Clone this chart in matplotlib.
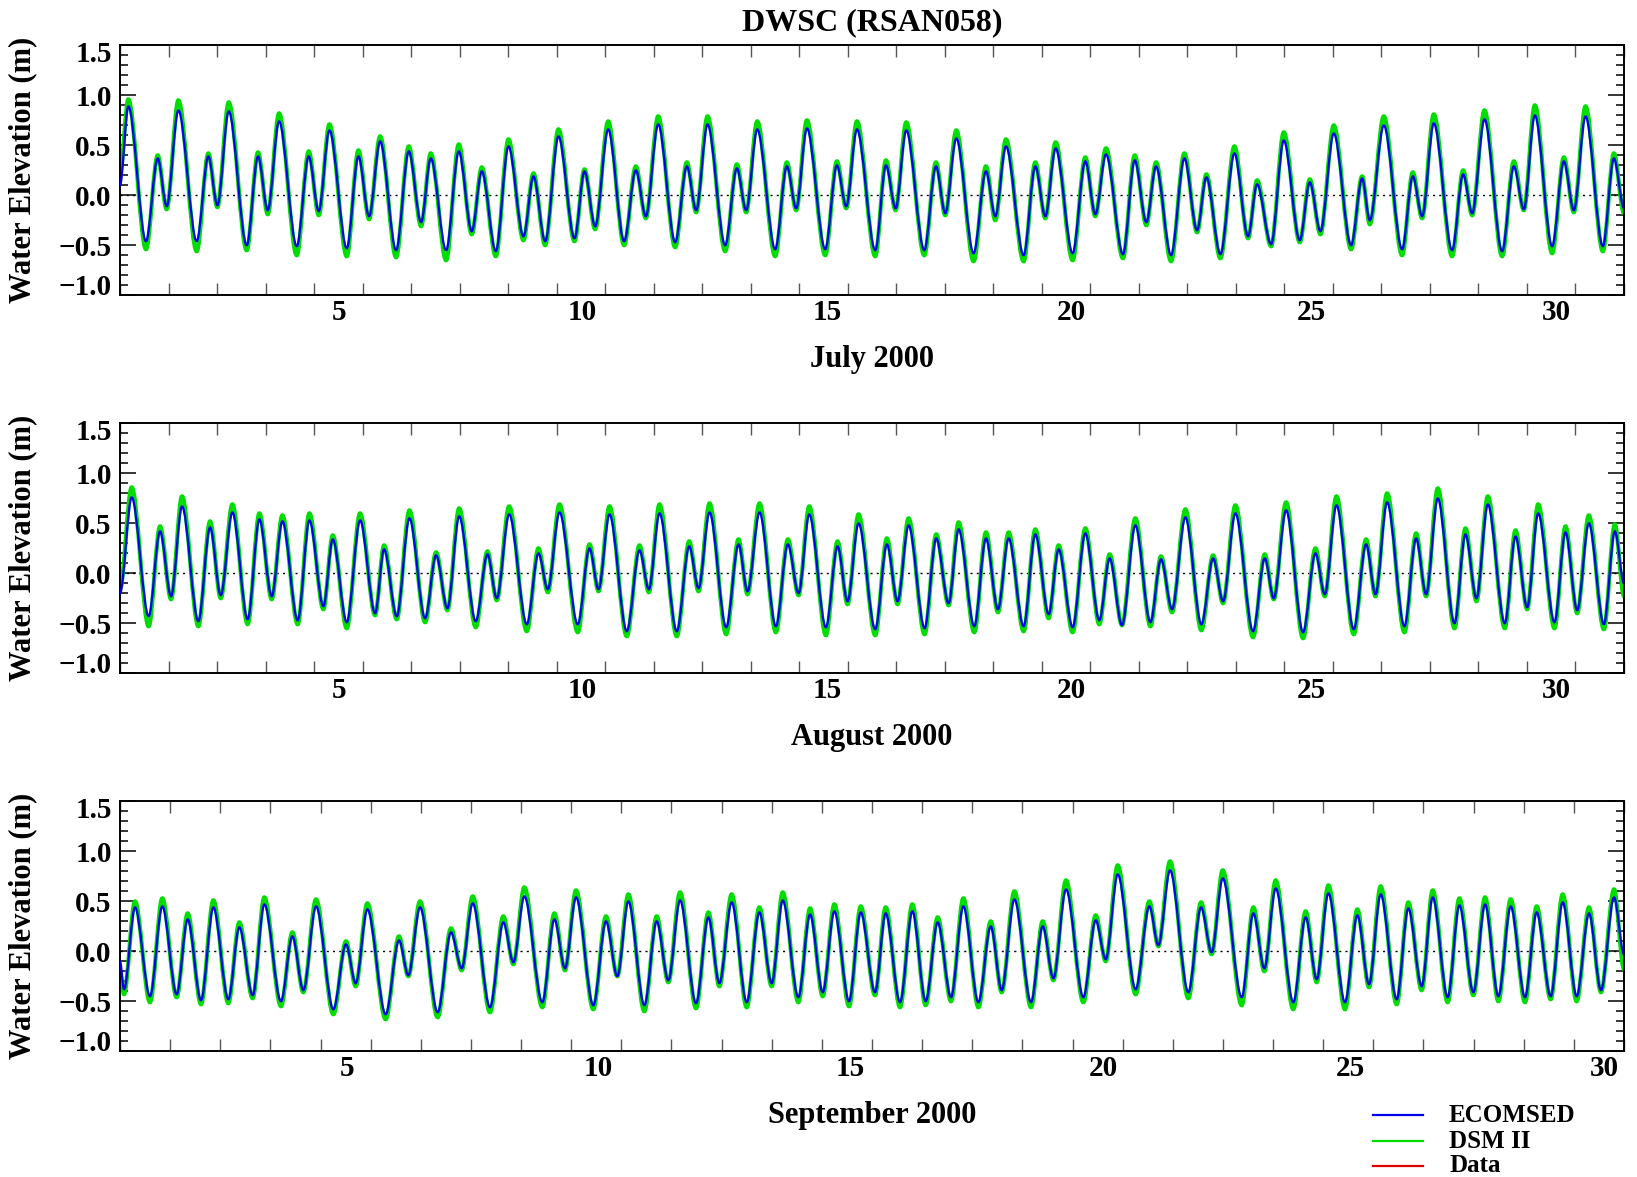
import matplotlib
matplotlib.use("Agg")
import matplotlib.pyplot as plt
from matplotlib.path import Path
from matplotlib.patches import PathPatch
from matplotlib.lines import Line2D
from matplotlib.ticker import FixedLocator, FixedFormatter, MultipleLocator, NullFormatter
from matplotlib.transforms import ScaledTranslation

# Tide extrema: time in days from the 1st of the month (00:00),
# water elevation in metres. First and last entries are the curve ends.
jul_t = [0, 0.172, 0.536, 0.777, 0.962, 1.203, 1.581, 1.821, 2.007, 2.241, 2.612, 2.845, 3.045,
         3.278, 3.643, 3.890, 4.096, 4.316, 4.674, 4.914, 5.134, 5.361, 5.691, 5.952, 6.206,
         6.405, 6.722, 6.983, 7.251, 7.457, 7.746, 8.007, 8.316, 8.522, 8.763, 9.038, 9.368,
         9.574, 9.794, 10.062,
         10.391, 10.632, 10.838, 11.093, 11.443, 11.684, 11.876, 12.110, 12.474, 12.714, 12.907,
         13.134, 13.505, 13.745, 13.938, 14.158, 14.536, 14.776, 14.969, 15.189, 15.567, 15.787,
         15.986, 16.206, 16.577, 16.818, 17.010, 17.237, 17.594, 17.849, 18.041, 18.261, 18.625,
         18.866, 19.072, 19.285, 19.635, 19.897, 20.103, 20.323, 20.673,
         20.915, 21.155, 21.354, 21.664, 21.939, 22.200, 22.392, 22.681, 22.970, 23.251, 23.437,
         23.726, 23.987, 24.317, 24.523, 24.743, 25.018, 25.375, 25.602, 25.760, 26.049, 26.427,
         26.646, 26.839, 27.079, 27.457, 27.684, 27.870, 28.124, 28.488, 28.729, 28.935, 29.162,
         29.519, 29.760, 29.966, 30.207, 30.564, 30.791, 31.0]
jul_dsm = [0.22,
           0.96, -0.54, 0.40, -0.14, 0.95, -0.56, 0.42, -0.12, 0.93, -0.55, 0.43, -0.19, 0.82,
           -0.60, 0.44, -0.20, 0.71, -0.61, 0.45, -0.24, 0.59, -0.62, 0.49, -0.31, 0.42, -0.65,
           0.51, -0.39, 0.28, -0.61, 0.56, -0.45, 0.22, -0.50, 0.66, -0.46, 0.26, -0.34, 0.74,
           -0.50, 0.29, -0.23, 0.79, -0.52, 0.33, -0.17, 0.79, -0.56, 0.31, -0.17, 0.74, -0.61,
           0.33, -0.15, 0.75, -0.60, 0.34, -0.13, 0.74, -0.61, 0.35, -0.15, 0.73, -0.60, 0.33,
           -0.20, 0.65, -0.66, 0.29, -0.25, 0.56, -0.66, 0.33, -0.23, 0.53, -0.65, 0.38, -0.21,
           0.47, -0.63,
           0.40, -0.30, 0.33, -0.66, 0.42, -0.37, 0.21, -0.63, 0.49, -0.43, 0.15, -0.51, 0.63,
           -0.47, 0.16, -0.39, 0.70, -0.54, 0.19, -0.29, 0.79, -0.60, 0.23, -0.23, 0.81, -0.61,
           0.25, -0.20, 0.85, -0.61, 0.34, -0.15, 0.90, -0.58, 0.38, -0.17, 0.89, -0.56, 0.42,
           -0.18]
jul_ecomsed = [0.10,
               0.89, -0.46, 0.37, -0.11, 0.85, -0.46, 0.39, -0.10, 0.84, -0.50, 0.39, -0.15, 0.74,
               -0.51, 0.39, -0.16, 0.65, -0.53, 0.39, -0.21, 0.54, -0.55, 0.44, -0.27, 0.37, -0.55,
               0.44, -0.36, 0.24, -0.56, 0.49, -0.41, 0.19, -0.46, 0.59, -0.43, 0.24, -0.31, 0.66,
               -0.46, 0.25, -0.21, 0.71, -0.47, 0.29, -0.15, 0.71, -0.50, 0.27, -0.15, 0.66, -0.54,
               0.29, -0.13, 0.67, -0.54, 0.30, -0.11, 0.66, -0.55, 0.30, -0.13, 0.65, -0.55, 0.29,
               -0.18, 0.57, -0.58, 0.24, -0.21, 0.49, -0.60, 0.29, -0.21, 0.47, -0.58, 0.34, -0.19,
               0.41, -0.59,
               0.35, -0.27, 0.29, -0.60, 0.37, -0.35, 0.18, -0.59, 0.42, -0.41, 0.11, -0.49, 0.55,
               -0.45, 0.13, -0.36, 0.62, -0.50, 0.17, -0.25, 0.70, -0.54, 0.19, -0.21, 0.72, -0.55,
               0.21, -0.18, 0.76, -0.56, 0.29, -0.14, 0.80, -0.51, 0.34, -0.15, 0.79, -0.51, 0.37,
               -0.13]

aug_t = [0, 0.241, 0.591, 0.825, 1.052, 1.278, 1.615, 1.856, 2.076, 2.316, 2.632, 2.873, 3.127,
         3.347, 3.663, 3.904, 4.192, 4.385, 4.674, 4.948, 5.258, 5.443, 5.704, 5.966, 6.289,
         6.515, 6.749, 6.990, 7.333, 7.574, 7.766, 8.021, 8.385, 8.625, 8.818, 9.058, 9.436,
         9.677, 9.863, 10.089,
         10.446, 10.708, 10.900, 11.120, 11.477, 11.732, 11.924, 12.151, 12.495, 12.749, 12.934,
         13.182, 13.519, 13.766, 13.986, 14.206, 14.550, 14.790, 14.996, 15.223, 15.567, 15.807,
         16.027, 16.254, 16.584, 16.824, 17.079, 17.285, 17.608, 17.849, 18.096, 18.316, 18.625,
         18.866, 19.141, 19.347, 19.635, 19.897, 20.185, 20.398, 20.653,
         20.928, 21.238, 21.457, 21.684, 21.959, 22.289, 22.530, 22.736, 22.990, 23.354, 23.595,
         23.781, 24.035, 24.385, 24.640, 24.832, 25.073, 25.430, 25.684, 25.877, 26.117, 26.475,
         26.715, 26.921, 27.162, 27.506, 27.732, 27.959, 28.193, 28.543, 28.763, 29.004, 29.231,
         29.567, 29.794, 30.035, 30.275, 30.585, 30.811, 31.0]
aug_dsm = [-0.15,
           0.86, -0.53, 0.47, -0.26, 0.77, -0.53, 0.52, -0.25, 0.69, -0.51, 0.60, -0.26, 0.58,
           -0.51, 0.60, -0.36, 0.38, -0.55, 0.60, -0.42, 0.28, -0.46, 0.63, -0.49, 0.21, -0.37,
           0.65, -0.54, 0.22, -0.27, 0.67, -0.58, 0.25, -0.19, 0.69, -0.59, 0.29, -0.18, 0.67,
           -0.63, 0.28, -0.19, 0.69, -0.63, 0.32, -0.18, 0.70, -0.61, 0.34, -0.21, 0.70, -0.59,
           0.34, -0.22, 0.67, -0.62, 0.32, -0.31, 0.59, -0.62, 0.35, -0.31, 0.55, -0.61, 0.39,
           -0.32, 0.51, -0.59, 0.41, -0.39, 0.41, -0.58, 0.44, -0.45, 0.28, -0.59, 0.45, -0.51,
           0.19, -0.52,
           0.55, -0.53, 0.17, -0.39, 0.64, -0.57, 0.18, -0.30, 0.68, -0.64, 0.19, -0.26, 0.71,
           -0.65, 0.25, -0.23, 0.77, -0.61, 0.34, -0.23, 0.80, -0.59, 0.40, -0.23, 0.85, -0.55,
           0.45, -0.28, 0.77, -0.55, 0.43, -0.36, 0.69, -0.55, 0.47, -0.40, 0.58, -0.56, 0.49,
           -0.23]
aug_ecomsed = [-0.20,
               0.76, -0.43, 0.42, -0.23, 0.67, -0.48, 0.46, -0.22, 0.61, -0.46, 0.54, -0.23, 0.52,
               -0.47, 0.53, -0.33, 0.34, -0.49, 0.53, -0.40, 0.24, -0.43, 0.55, -0.45, 0.18, -0.35,
               0.57, -0.48, 0.19, -0.25, 0.59, -0.51, 0.20, -0.16, 0.61, -0.51, 0.25, -0.16, 0.59,
               -0.58, 0.23, -0.16, 0.60, -0.58, 0.27, -0.15, 0.61, -0.54, 0.29, -0.18, 0.61, -0.53,
               0.29, -0.20, 0.59, -0.54, 0.27, -0.28, 0.50, -0.56, 0.29, -0.28, 0.48, -0.55, 0.35,
               -0.30, 0.44, -0.53, 0.35, -0.36, 0.35, -0.53, 0.39, -0.41, 0.24, -0.54, 0.40, -0.47,
               0.15, -0.52,
               0.48, -0.49, 0.14, -0.36, 0.56, -0.51, 0.15, -0.28, 0.60, -0.58, 0.15, -0.25, 0.63,
               -0.59, 0.20, -0.21, 0.68, -0.56, 0.29, -0.21, 0.71, -0.53, 0.35, -0.21, 0.75, -0.50,
               0.39, -0.25, 0.69, -0.50, 0.37, -0.34, 0.60, -0.49, 0.41, -0.37, 0.50, -0.51, 0.42,
               -0.10]

sep_t = [0, 0.080, 0.299, 0.598, 0.844, 1.130, 1.350, 1.616, 1.862, 2.161, 2.380, 2.646, 2.879,
         3.211, 3.438, 3.657, 3.910, 4.255, 4.508, 4.701, 4.934, 5.299, 5.565, 5.751, 5.984,
         6.336, 6.602, 6.815, 7.035, 7.380, 7.646, 7.846, 8.065, 8.424, 8.664, 8.876, 9.096,
         9.441, 9.694, 9.920,
         10.140, 10.459, 10.705, 10.938, 11.171, 11.490, 11.736, 11.955, 12.201, 12.501, 12.753,
         12.999, 13.219, 13.531, 13.764, 14.017, 14.249, 14.542, 14.775, 15.060, 15.273, 15.559,
         15.805, 16.071, 16.310, 16.576, 16.822, 17.122, 17.368, 17.587, 17.840, 18.172, 18.405,
         18.618, 18.870, 19.216, 19.462, 19.662, 19.901,
         20.259, 20.532, 20.712, 20.944, 21.310, 21.563, 21.775, 21.995, 22.374, 22.607, 22.826,
         23.052, 23.404, 23.650, 23.870, 24.103, 24.435, 24.681, 24.914, 25.146, 25.466, 25.698,
         25.964, 26.184, 26.483, 26.716, 26.995, 27.228, 27.494, 27.740, 28.025, 28.258, 28.537,
         28.777, 29.056, 29.302, 29.541, 29.801, 30.0]
sep_dsm = [-0.21,
           -0.43, 0.50, -0.51, 0.53, -0.46, 0.38, -0.53, 0.51, -0.52, 0.29, -0.47, 0.54, -0.55,
           0.19, -0.41, 0.52, -0.63, 0.10, -0.35, 0.48, -0.68, 0.15, -0.25, 0.50, -0.66, 0.23,
           -0.19, 0.55, -0.61, 0.35, -0.13, 0.64, -0.56, 0.38, -0.19, 0.61, -0.58, 0.35, -0.25,
           0.57, -0.60, 0.35, -0.31, 0.59, -0.57, 0.39, -0.35, 0.57, -0.56, 0.44, -0.35, 0.59,
           -0.51, 0.43, -0.45, 0.47, -0.55, 0.45, -0.44, 0.44, -0.56, 0.47, -0.54, 0.34, -0.50,
           0.53, -0.56, 0.30, -0.41, 0.60, -0.56, 0.30, -0.29, 0.71, -0.51, 0.36, -0.10, 0.86,
           -0.43, 0.50, 0.05, 0.90, -0.47, 0.49, -0.03, 0.81, -0.54, 0.44, -0.20, 0.71, -0.58,
           0.40, -0.31, 0.66, -0.58, 0.42, -0.36, 0.65, -0.53, 0.49, -0.39, 0.61, -0.51, 0.53,
           -0.44, 0.54, -0.50, 0.52, -0.51, 0.45, -0.48, 0.57, -0.50, 0.44, -0.41, 0.62,
           -0.18]
sep_ecomsed = [-0.10,
               -0.38, 0.44, -0.45, 0.45, -0.43, 0.32, -0.49, 0.44, -0.48, 0.24, -0.44, 0.47, -0.50,
               0.15, -0.39, 0.45, -0.58, 0.07, -0.32, 0.42, -0.63, 0.11, -0.24, 0.44, -0.61, 0.19,
               -0.17, 0.48, -0.56, 0.29, -0.11, 0.55, -0.51, 0.32, -0.17, 0.54, -0.54, 0.30, -0.25,
               0.50, -0.54, 0.30, -0.29, 0.51, -0.52, 0.34, -0.32, 0.49, -0.51, 0.39, -0.32, 0.51,
               -0.46, 0.37, -0.41, 0.40, -0.50, 0.39, -0.41, 0.38, -0.51, 0.40, -0.50, 0.29, -0.46,
               0.45, -0.51, 0.25, -0.39, 0.52, -0.51, 0.25, -0.27, 0.62, -0.46, 0.31, -0.08, 0.77,
               -0.38, 0.45, 0.06, 0.81, -0.41, 0.44, -0.01, 0.73, -0.46, 0.38, -0.17, 0.63, -0.51,
               0.34, -0.28, 0.58, -0.51, 0.36, -0.33, 0.57, -0.48, 0.43, -0.35, 0.54, -0.46, 0.46,
               -0.41, 0.47, -0.45, 0.45, -0.46, 0.39, -0.45, 0.49, -0.45, 0.38, -0.39, 0.54,
               -0.03]

month_labels = ["July 2000", "August 2000", "September 2000"]
month_days = [31, 31, 30]
day_labels = ["5", "10", "15", "20", "25", "30"]
day_label_pos = [4.52, 9.53, 14.57, 19.61, 24.55, 29.61]
y_ticks = [-1.0, -0.5, 0.0, 0.5, 1.0, 1.5]
y_ticklabels = ["\u22121.0", "\u22120.5", "0.0", "0.5", "1.0", "1.5"]
series_names = ["ECOMSED", "DSM II", "Data"]
series_colors = ["#0000ee", "#00dd00", "#dd0000"]

plt.rcParams["font.family"] = ["Liberation Serif", "DejaVu Serif"]
plt.rcParams["font.weight"] = "bold"


def tide_path(t, v):
    # smooth curve through the extrema, flat at every turning point
    if len(t) != len(v):
        raise ValueError(f"length mismatch {len(t)} vs {len(v)}")
    verts = [(t[0], v[0])]
    codes = [Path.MOVETO]
    for i in range(1, len(t)):
        dt = (t[i] - t[i - 1]) / 3.0
        verts += [(t[i - 1] + dt, v[i - 1]), (t[i] - dt, v[i]), (t[i], v[i])]
        codes += [Path.CURVE4] * 3
    return Path(verts, codes)


W, H = 1637, 1177
fig = plt.figure(figsize=(W / 100, H / 100), dpi=100)

panels = [
    (jul_t, jul_ecomsed, jul_dsm),
    (aug_t, aug_ecomsed, aug_dsm),
    (sep_t, sep_ecomsed, sep_dsm),
]
axes_bottoms = [295.3, 673.3, 1051.3]

for k, (t, eco, dsm) in enumerate(panels):
    ax = fig.add_axes([120 / W, 1 - axes_bottoms[k] / H, 1504 / W, 250 / H])
    ndays = month_days[k]

    ax.axhline(0, color="black", lw=1.0, ls=(0, (1.5, 3)), zorder=1)
    ax.add_patch(PathPatch(tide_path(t, dsm), fill=False, edgecolor=series_colors[1],
                           lw=3.0, joinstyle="round", capstyle="round", zorder=2))
    ax.add_patch(PathPatch(tide_path(t, eco), fill=False, edgecolor=series_colors[0],
                           lw=1.6, joinstyle="round", capstyle="round", zorder=3))

    ax.set_xlim(0, ndays)
    ax.set_ylim(-1.0, 1.5)

    # day boundaries carry the ticks, labels sit near the middle of each day
    ax.xaxis.set_major_locator(FixedLocator(list(range(0, ndays + 1))))
    ax.xaxis.set_major_formatter(NullFormatter())
    ax.xaxis.set_minor_locator(FixedLocator(day_label_pos))
    ax.xaxis.set_minor_formatter(FixedFormatter(day_labels))
    ax.tick_params(axis="x", which="major", direction="in", length=8.5, width=1.0,
                   color="#555555", top=True, bottom=True)
    ax.tick_params(axis="x", which="minor", length=0, pad=3, labelsize=21, top=False)

    ax.yaxis.set_major_locator(FixedLocator(y_ticks))
    ax.yaxis.set_major_formatter(FixedFormatter(y_ticklabels))
    ax.yaxis.set_minor_locator(MultipleLocator(0.1))
    ax.tick_params(axis="y", which="major", direction="in", length=11.5, width=1.1,
                   color="black", left=True, right=True, labelsize=21, pad=6)
    ax.tick_params(axis="y", which="minor", direction="in", length=5.8, width=1.1,
                   color="black", left=True, right=True)
    for lab in ax.get_yticklabels():
        if lab.get_text() == "1.5":
            lab.set_va("top")
            lab.set_transform(lab.get_transform()
                              + ScaledTranslation(0, 3 / 72, fig.dpi_scale_trans))
        elif lab.get_text() == "\u22121.0":
            lab.set_va("baseline")

    for sp in ax.spines.values():
        sp.set_linewidth(1.4)

    ax.text(0.5, -0.257, month_labels[k], transform=ax.transAxes, ha="center", va="center",
            fontsize=22)
    ax.text(-0.0645, 0.5, "Water Elevation (m)", transform=ax.transAxes, rotation=90,
            ha="center", va="center", fontsize=22)

fig.text(872 / W, 1 - 23 / H, "DWSC (RSAN058)", ha="center", va="center", fontsize=23)

# legend block, bottom right
legend_rows = [1115, 1141, 1166]
for name, color, y in zip(series_names, series_colors, legend_rows):
    fig.add_artist(Line2D([1373 / W, 1423 / W], [1 - y / H, 1 - y / H], color=color, lw=1.6,
                          transform=fig.transFigure))
    fig.text(1449 / W, 1 - y / H, name, ha="left", va="center", fontsize=18)

fig.savefig("out.png", dpi=100)
